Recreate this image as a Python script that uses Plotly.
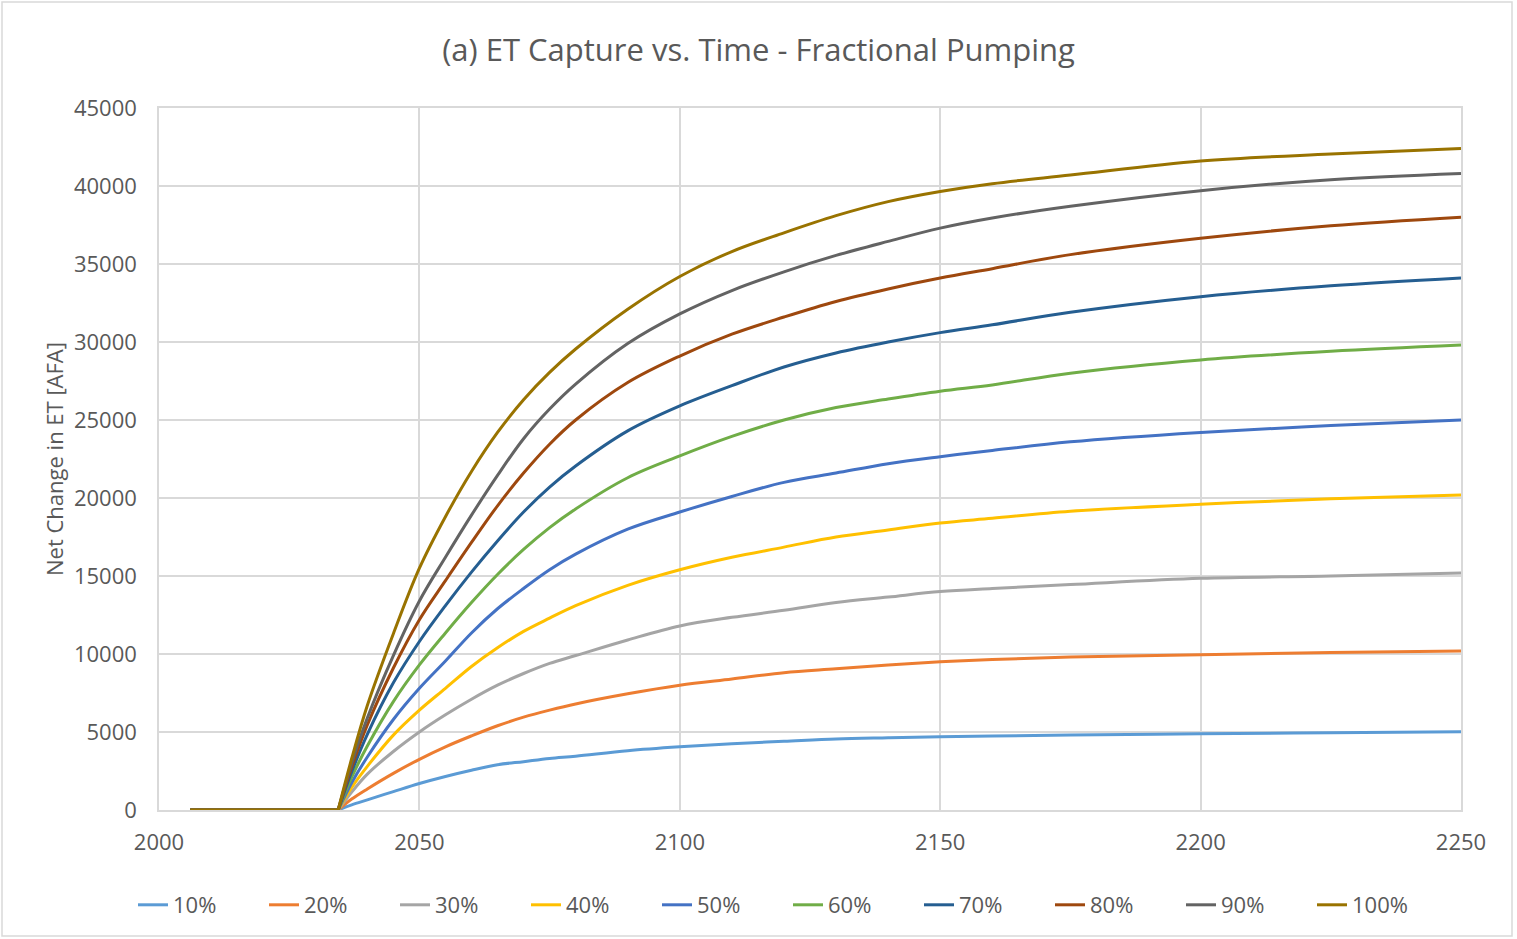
import plotly.graph_objects as go

# ---------------- data ----------------
years = [2006, 2033, 2034.4, 2037, 2040, 2045, 2050, 2055, 2060, 2065, 2070, 2075,
         2080, 2090, 2100, 2110, 2120, 2130, 2140, 2150, 2160, 2175, 2200, 2225, 2250]

series_names = ["10%", "20%", "30%", "40%", "50%", "60%", "70%", "80%", "90%", "100%"]

p10 = [0, 0, 0, 330, 650, 1180, 1700, 2150, 2550, 2900, 3100, 3300,
       3450, 3800, 4050, 4250, 4400, 4550, 4630, 4700, 4750, 4800, 4880, 4950, 5020]
p20 = [0, 0, 0, 700, 1350, 2350, 3250, 4050, 4750, 5400, 5950, 6400,
       6800, 7450, 8000, 8400, 8800, 9050, 9300, 9500, 9650, 9800, 9950, 10100, 10200]
p30 = [0, 0, 0, 1150, 2300, 3750, 5000, 6100, 7100, 8000, 8750, 9400,
       9900, 10900, 11800, 12350, 12800, 13300, 13650, 14000, 14200, 14450, 14850, 15000, 15200]
p40 = [0, 0, 0, 1450, 2800, 4800, 6400, 7800, 9200, 10400, 11450, 12300,
       13100, 14400, 15400, 16200, 16850, 17500, 17950, 18400, 18700, 19150, 19600, 19950, 20200]
p50 = [0, 0, 0, 1750, 3400, 5800, 7800, 9550, 11350, 12900, 14200, 15400,
       16400, 18000, 19100, 20100, 21000, 21600, 22200, 22650, 23050, 23600, 24200, 24650, 25000]
p60 = [0, 0, 0, 2100, 4100, 6950, 9300, 11350, 13300, 15100, 16700, 18100,
       19300, 21300, 22700, 23950, 25000, 25800, 26350, 26850, 27250, 28000, 28850, 29400, 29800]
p70 = [0, 0, 0, 2450, 4850, 8150, 10800, 13100, 15250, 17250, 19100, 20700,
       22050, 24300, 25900, 27200, 28400, 29300, 30000, 30600, 31100, 31900, 32900, 33600, 34100]
p80 = [0, 0, 0, 2750, 5450, 9100, 12200, 14700, 17150, 19500, 21600, 23450,
       25000, 27400, 29100, 30500, 31600, 32600, 33400, 34100, 34700, 35600, 36650, 37450, 38000]
p90 = [0, 0, 0, 3000, 5900, 9900, 13400, 16200, 18900, 21450, 23800, 25700,
       27300, 29900, 31800, 33300, 34500, 35550, 36450, 37300, 37950, 38700, 39700, 40400, 40800]
p100 = [0, 0, 0, 3300, 6700, 11300, 15500, 18800, 21700, 24200, 26300, 28050,
        29550, 32100, 34200, 35800, 37000, 38100, 39000, 39650, 40150, 40700, 41600, 42050, 42400]

series_values = [p10, p20, p30, p40, p50, p60, p70, p80, p90, p100]

x_ticks = [2000, 2050, 2100, 2150, 2200, 2250]
y_ticks = [0, 5000, 10000, 15000, 20000, 25000, 30000, 35000, 40000, 45000]

# ---------------- styling ----------------
colors = ["#5B9BD5", "#ED7D31", "#A5A5A5", "#FFC000", "#4472C4",
          "#70AD47", "#255E91", "#9E480E", "#636363", "#997300"]
text_color = "#595959"
grid_color = "#D9D9D9"
font_family = "Open Sans"

RISE = 2  # index in `years` where pumping response begins

fig = go.Figure()
for name, vals, col in zip(series_names, series_values, colors):
    # flat pre-pumping part (straight) -- part of the same legend group
    fig.add_trace(go.Scatter(
        x=years[:RISE + 1], y=vals[:RISE + 1], name=name, mode="lines",
        line=dict(color=col, width=3), legendgroup=name, showlegend=False,
        hoverinfo="skip",
    ))
    # response part (smooth curve)
    fig.add_trace(go.Scatter(
        x=years[RISE:], y=vals[RISE:], name=name, mode="lines",
        line=dict(color=col, width=3, shape="spline", smoothing=1.0),
        legendgroup=name,
    ))

W, H = 1517, 939
ml, mr, mt, mb = 159, 56, 108, 129
pw, ph = W - ml - mr, H - mt - mb

fig.update_layout(
    width=W, height=H,
    margin=dict(l=ml, r=mr, t=mt, b=mb),
    paper_bgcolor="white", plot_bgcolor="white",
    font=dict(family=font_family, color=text_color, size=21),
    title=dict(
        text="(a) ET Capture vs. Time - Fractional Pumping",
        x=0.5, xanchor="center", xref="container",
        y=1 - 50 / H, yanchor="middle", yref="container",
        font=dict(family=font_family, size=31, color=text_color),
    ),
    xaxis=dict(
        range=[2000, 2250], tickvals=x_ticks,
        showgrid=True, gridcolor=grid_color, gridwidth=1.5,
        showline=True, linecolor=grid_color, linewidth=1.5, mirror=True,
        zeroline=False, ticks="", ticklabelstandoff=12,
        tickfont=dict(size=22, color=text_color),
    ),
    yaxis=dict(
        range=[0, 45000], tickvals=y_ticks, tickformat="d",
        showgrid=True, gridcolor=grid_color, gridwidth=1.5,
        showline=True, linecolor=grid_color, linewidth=1.5, mirror=True,
        zeroline=False, ticks="", ticklabelstandoff=16,
        tickfont=dict(size=22, color=text_color),
        title=dict(text="Net Change in ET [AFA]", standoff=4,
                   font=dict(size=22, color=text_color)),
    ),
    legend=dict(
        orientation="h",
        x=(133 - ml) / pw, xanchor="left",
        y=-(905 - (mt + ph)) / ph, yanchor="middle",
        font=dict(size=22, color=text_color),
        entrywidth=86, entrywidthmode="pixels",
        bgcolor="rgba(0,0,0,0)",
    ),
    shapes=[dict(
        type="rect", xref="paper", yref="paper",
        x0=(2 - ml) / pw, x1=(1512 - ml) / pw,
        y0=-(936 - (mt + ph)) / ph, y1=1 + (mt - 2) / ph,
        line=dict(color=grid_color, width=1.5), fillcolor="rgba(0,0,0,0)",
        layer="below",
    )],
)

fig.write_html("out.html")
